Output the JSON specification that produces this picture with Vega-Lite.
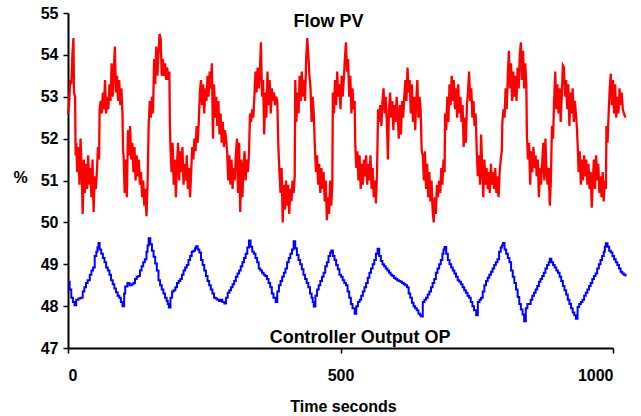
{
  "$schema": "https://vega.github.io/schema/vega-lite/v6.json",
  "autosize": {"type": "none"},
  "padding": {"left": 68, "top": 13, "right": 28, "bottom": 68},
  "width": 545,
  "height": 335,
  "background": "white",
  "config": {
    "view": {"stroke": null},
    "font": "Liberation Sans",
    "axis": {"grid": false, "domainColor": "black", "domainWidth": 2, "tickColor": "black", "tickWidth": 1.5, "tickSize": 5, "labelFont": "Liberation Sans", "labelFontWeight": "bold", "labelFontSize": 16, "labelColor": "black", "titleFont": "Liberation Sans", "titleFontWeight": "bold", "titleFontSize": 16, "titleColor": "black"}
  },
  "datasets": {
    "pv": [
      {"t":0,"v":52.6},{"t":2,"v":52.8},{"t":4,"v":53.4},{"t":6,"v":53.3},{"t":8,"v":54.0},{"t":10,"v":54.4},{"t":11,"v":53.1},{"t":13,"v":53.0},{"t":14,"v":51.6},
      {"t":15,"v":51.9},{"t":17,"v":51.2},{"t":19,"v":51.8},{"t":21,"v":50.9},{"t":23,"v":52.0},{"t":25,"v":51.3},{"t":27,"v":50.2},{"t":29,"v":51.5},{"t":31,"v":50.7},{"t":33,"v":51.4},{"t":35,"v":50.8},{"t":37,"v":51.6},{"t":39,"v":50.9},{"t":41,"v":51.3},{"t":43,"v":50.6},{"t":45,"v":51.5},{"t":47,"v":50.25},{"t":49,"v":51.1},{"t":51,"v":50.8},{"t":53,"v":51.2},{"t":55,"v":51.8},{"t":57,"v":51.5},
      {"t":58,"v":52.7},{"t":60,"v":52.9},{"t":62,"v":52.6},{"t":64,"v":53.1},{"t":66,"v":52.7},{"t":68,"v":53.4},{"t":70,"v":52.6},{"t":72,"v":53.0},{"t":74,"v":52.7},{"t":76,"v":53.3},{"t":78,"v":52.9},{"t":80,"v":53.8},{"t":82,"v":53.0},{"t":84,"v":53.6},{"t":86,"v":54.2},{"t":88,"v":53.1},{"t":90,"v":53.5},{"t":92,"v":52.9},{"t":94,"v":53.4},{"t":96,"v":52.8},{"t":98,"v":53.2},{"t":100,"v":52.6},
      {"t":101,"v":51.7},{"t":102,"v":51.6},{"t":104,"v":50.7},{"t":106,"v":51.5},{"t":108,"v":50.6},{"t":110,"v":52.2},{"t":112,"v":51.6},{"t":114,"v":52.3},{"t":116,"v":51.5},{"t":118,"v":51.9},{"t":120,"v":51.2},{"t":122,"v":51.8},{"t":124,"v":51.0},{"t":126,"v":51.6},{"t":128,"v":51.1},{"t":130,"v":51.5},{"t":132,"v":50.9},{"t":134,"v":51.2},{"t":136,"v":50.6},{"t":138,"v":51.0},{"t":140,"v":50.4},{"t":142,"v":50.8},{"t":144,"v":50.15},{"t":146,"v":50.9},{"t":147,"v":51.6},
      {"t":148,"v":52.3},{"t":150,"v":52.9},{"t":152,"v":52.5},{"t":154,"v":53.0},{"t":156,"v":52.6},{"t":158,"v":53.9},{"t":160,"v":53.3},{"t":162,"v":54.2},{"t":164,"v":53.5},{"t":166,"v":54.0},{"t":168,"v":54.5},{"t":170,"v":54.4},{"t":172,"v":53.5},{"t":174,"v":53.9},{"t":176,"v":53.5},{"t":178,"v":53.8},{"t":180,"v":53.4},{"t":182,"v":53.7},{"t":184,"v":53.4},{"t":186,"v":53.6},{"t":187,"v":52.3},
      {"t":188,"v":51.8},{"t":190,"v":51.2},{"t":192,"v":51.9},{"t":194,"v":50.9},{"t":196,"v":51.5},{"t":198,"v":50.6},{"t":200,"v":51.4},{"t":202,"v":51.9},{"t":204,"v":51.0},{"t":206,"v":51.7},{"t":208,"v":51.2},{"t":210,"v":51.8},{"t":212,"v":50.9},{"t":214,"v":51.4},{"t":216,"v":51.0},{"t":218,"v":51.6},{"t":220,"v":50.8},{"t":222,"v":51.3},{"t":224,"v":50.6},{"t":226,"v":51.2},{"t":228,"v":51.8},{"t":230,"v":51.5},{"t":232,"v":52.0},{"t":234,"v":51.7},{"t":236,"v":52.3},{"t":238,"v":51.9},{"t":240,"v":52.4},
      {"t":242,"v":53.1},{"t":244,"v":53.4},{"t":246,"v":52.8},{"t":248,"v":53.3},{"t":250,"v":52.6},{"t":252,"v":53.2},{"t":254,"v":52.9},{"t":256,"v":53.5},{"t":258,"v":53.0},{"t":260,"v":53.6},{"t":262,"v":53.2},{"t":264,"v":53.8},{"t":266,"v":52.0},{"t":268,"v":53.3},{"t":270,"v":52.5},{"t":272,"v":53.0},{"t":274,"v":52.3},{"t":276,"v":52.9},{"t":278,"v":52.1},{"t":280,"v":52.6},{"t":282,"v":51.9},{"t":284,"v":52.4},{"t":286,"v":51.8},{"t":288,"v":52.2},{"t":290,"v":52.0},
      {"t":292,"v":51.7},{"t":294,"v":51.0},{"t":296,"v":51.6},{"t":298,"v":50.9},{"t":300,"v":51.5},{"t":302,"v":50.8},{"t":304,"v":51.3},{"t":306,"v":51.0},{"t":308,"v":51.6},{"t":310,"v":52.0},{"t":312,"v":50.7},{"t":314,"v":51.9},{"t":316,"v":50.25},{"t":318,"v":51.5},{"t":320,"v":50.6},{"t":322,"v":51.3},{"t":324,"v":51.7},{"t":326,"v":51.0},{"t":328,"v":51.5},{"t":330,"v":51.2},{"t":332,"v":51.6},
      {"t":334,"v":52.6},{"t":336,"v":52.4},{"t":338,"v":52.7},{"t":340,"v":52.5},{"t":342,"v":53.0},{"t":344,"v":53.6},{"t":346,"v":53.1},{"t":348,"v":53.7},{"t":350,"v":53.2},{"t":352,"v":53.6},{"t":354,"v":54.3},{"t":356,"v":53.0},{"t":358,"v":53.4},{"t":360,"v":52.1},{"t":362,"v":53.1},{"t":364,"v":52.5},{"t":366,"v":53.6},{"t":368,"v":52.8},{"t":370,"v":53.4},{"t":372,"v":52.6},{"t":374,"v":53.2},{"t":376,"v":52.9},{"t":378,"v":53.1},{"t":380,"v":52.8},{"t":382,"v":53.0},{"t":384,"v":52.9},
      {"t":386,"v":51.8},{"t":388,"v":51.2},{"t":390,"v":50.7},{"t":392,"v":51.3},{"t":394,"v":50.0},{"t":396,"v":50.9},{"t":398,"v":50.3},{"t":400,"v":51.0},{"t":402,"v":50.4},{"t":404,"v":50.9},{"t":406,"v":50.2},{"t":408,"v":50.8},{"t":410,"v":50.5},{"t":412,"v":51.0},{"t":414,"v":50.7},{"t":416,"v":51.1},
      {"t":417,"v":53.4},{"t":419,"v":52.4},{"t":421,"v":53.1},{"t":423,"v":52.6},{"t":425,"v":53.5},{"t":427,"v":52.9},{"t":429,"v":53.6},{"t":431,"v":53.0},{"t":433,"v":53.4},{"t":435,"v":52.9},{"t":437,"v":53.9},{"t":439,"v":54.4},{"t":441,"v":54.0},{"t":443,"v":53.5},{"t":445,"v":53.2},{"t":447,"v":52.4},{"t":449,"v":53.0},{"t":451,"v":52.6},
      {"t":453,"v":51.8},{"t":455,"v":51.2},{"t":457,"v":51.6},{"t":459,"v":50.9},{"t":461,"v":51.4},{"t":463,"v":50.7},{"t":465,"v":51.3},{"t":467,"v":50.8},{"t":469,"v":51.2},{"t":471,"v":50.5},{"t":473,"v":51.0},{"t":475,"v":50.05},{"t":477,"v":50.6},{"t":479,"v":50.2},{"t":481,"v":51.0},{"t":483,"v":50.4},{"t":485,"v":50.9},
      {"t":486,"v":53.1},{"t":488,"v":52.6},{"t":490,"v":53.4},{"t":492,"v":52.8},{"t":494,"v":53.6},{"t":496,"v":53.0},{"t":498,"v":53.3},{"t":500,"v":52.7},{"t":502,"v":53.5},{"t":504,"v":53.0},{"t":506,"v":53.4},{"t":508,"v":53.9},{"t":510,"v":54.3},{"t":512,"v":53.6},{"t":514,"v":53.9},{"t":516,"v":53.0},{"t":518,"v":53.5},{"t":520,"v":52.6},{"t":522,"v":53.2},{"t":524,"v":52.7},{"t":526,"v":52.9},
      {"t":527,"v":51.9},{"t":529,"v":51.3},{"t":531,"v":51.7},{"t":533,"v":51.0},{"t":535,"v":51.6},{"t":537,"v":50.8},{"t":539,"v":51.4},{"t":541,"v":50.9},{"t":543,"v":51.5},{"t":545,"v":51.1},{"t":547,"v":51.6},{"t":549,"v":50.9},{"t":551,"v":51.4},{"t":553,"v":51.0},{"t":555,"v":51.6},{"t":557,"v":50.8},{"t":559,"v":51.3},{"t":561,"v":50.6},{"t":563,"v":51.0},{"t":565,"v":50.45},{"t":567,"v":51.2},
      {"t":569,"v":52.7},{"t":571,"v":52.4},{"t":573,"v":52.8},{"t":575,"v":52.3},{"t":577,"v":52.9},{"t":579,"v":53.2},{"t":581,"v":52.6},{"t":583,"v":53.0},{"t":585,"v":52.4},{"t":587,"v":51.5},{"t":589,"v":52.7},{"t":591,"v":53.1},{"t":593,"v":52.5},{"t":595,"v":52.9},{"t":597,"v":52.2},{"t":599,"v":52.8},{"t":601,"v":52.4},{"t":603,"v":53.0},{"t":605,"v":52.6},{"t":607,"v":52.0},{"t":609,"v":52.8},{"t":611,"v":52.1},{"t":613,"v":52.9},{"t":615,"v":52.5},{"t":617,"v":53.0},{"t":619,"v":53.4},{"t":621,"v":52.9},{"t":623,"v":53.7},{"t":625,"v":53.1},{"t":627,"v":53.4},{"t":629,"v":52.6},{"t":631,"v":53.3},{"t":633,"v":52.4},{"t":635,"v":53.0},{"t":637,"v":52.2},{"t":639,"v":52.9},{"t":641,"v":53.4},{"t":643,"v":52.5},{"t":645,"v":53.0},{"t":647,"v":52.7},
      {"t":649,"v":51.7},{"t":651,"v":51.6},{"t":653,"v":51.0},{"t":655,"v":51.7},{"t":657,"v":50.8},{"t":659,"v":51.4},{"t":661,"v":50.6},{"t":663,"v":51.2},{"t":665,"v":50.5},{"t":667,"v":51.0},{"t":669,"v":50.3},{"t":671,"v":50.0},{"t":673,"v":50.6},{"t":675,"v":50.2},{"t":677,"v":50.9},{"t":679,"v":50.6},{"t":681,"v":51.0},{"t":683,"v":50.7},{"t":685,"v":51.3},{"t":687,"v":50.9},{"t":689,"v":51.5},{"t":691,"v":51.2},
      {"t":692,"v":52.6},{"t":694,"v":52.2},{"t":696,"v":53.0},{"t":698,"v":52.4},{"t":700,"v":53.3},{"t":702,"v":52.8},{"t":704,"v":53.5},{"t":706,"v":52.9},{"t":708,"v":53.4},{"t":710,"v":52.7},{"t":712,"v":53.2},{"t":714,"v":52.5},{"t":716,"v":53.3},{"t":718,"v":52.6},{"t":720,"v":53.0},{"t":722,"v":52.4},{"t":724,"v":52.8},{"t":726,"v":51.8},{"t":728,"v":52.5},{"t":730,"v":51.9},{"t":732,"v":52.8},{"t":734,"v":53.1},{"t":736,"v":53.6},{"t":738,"v":52.9},{"t":740,"v":53.2},{"t":742,"v":52.5},{"t":744,"v":52.9},{"t":746,"v":52.3},{"t":748,"v":52.6},
      {"t":750,"v":51.7},{"t":752,"v":51.1},{"t":754,"v":51.6},{"t":756,"v":50.9},{"t":758,"v":52.1},{"t":760,"v":51.3},{"t":762,"v":50.6},{"t":764,"v":51.5},{"t":766,"v":50.9},{"t":768,"v":51.3},{"t":770,"v":50.8},{"t":772,"v":51.2},{"t":774,"v":50.7},{"t":776,"v":51.4},{"t":778,"v":50.9},{"t":780,"v":51.2},{"t":782,"v":50.8},{"t":784,"v":51.3},{"t":786,"v":50.7},{"t":788,"v":51.1},{"t":790,"v":50.6},{"t":792,"v":51.2},{"t":794,"v":51.5},{"t":796,"v":51.7},
      {"t":797,"v":52.4},{"t":799,"v":52.7},{"t":801,"v":52.5},{"t":803,"v":53.2},{"t":805,"v":52.7},{"t":807,"v":53.5},{"t":809,"v":54.1},{"t":811,"v":53.2},{"t":813,"v":53.8},{"t":815,"v":52.9},{"t":817,"v":53.6},{"t":819,"v":53.0},{"t":821,"v":53.5},{"t":823,"v":52.9},{"t":825,"v":53.7},{"t":827,"v":53.2},{"t":829,"v":54.0},{"t":831,"v":54.3},{"t":833,"v":53.4},{"t":835,"v":54.1},{"t":837,"v":53.2},{"t":839,"v":53.8},{"t":841,"v":53.3},
      {"t":842,"v":52.1},{"t":844,"v":51.5},{"t":846,"v":51.9},{"t":848,"v":50.9},{"t":850,"v":51.7},{"t":852,"v":51.2},{"t":854,"v":51.8},{"t":856,"v":51.3},{"t":858,"v":51.6},{"t":860,"v":51.1},{"t":862,"v":51.5},{"t":864,"v":50.6},{"t":866,"v":51.3},{"t":868,"v":50.9},{"t":870,"v":51.4},{"t":872,"v":51.9},{"t":874,"v":51.0},{"t":876,"v":52.0},{"t":878,"v":51.2},{"t":880,"v":50.9},{"t":882,"v":51.3},{"t":884,"v":50.4},{"t":886,"v":51.0},
      {"t":888,"v":52.3},{"t":890,"v":52.0},{"t":892,"v":52.9},{"t":894,"v":53.6},{"t":896,"v":52.7},{"t":898,"v":53.3},{"t":900,"v":52.6},{"t":902,"v":53.2},{"t":904,"v":52.4},{"t":906,"v":53.0},{"t":908,"v":53.75},{"t":910,"v":53.7},{"t":912,"v":53.0},{"t":914,"v":53.4},{"t":916,"v":52.7},{"t":918,"v":53.3},{"t":920,"v":52.3},{"t":922,"v":53.1},{"t":924,"v":52.6},{"t":926,"v":53.2},{"t":928,"v":52.4},{"t":930,"v":52.9},{"t":932,"v":52.6},{"t":934,"v":52.2},
      {"t":935,"v":51.9},{"t":937,"v":51.2},{"t":939,"v":51.7},{"t":941,"v":50.9},{"t":943,"v":51.5},{"t":945,"v":51.0},{"t":947,"v":51.6},{"t":949,"v":51.1},{"t":951,"v":51.5},{"t":953,"v":50.9},{"t":955,"v":51.4},{"t":957,"v":50.8},{"t":959,"v":51.2},{"t":961,"v":50.35},{"t":963,"v":51.0},{"t":965,"v":51.5},{"t":967,"v":50.8},{"t":969,"v":51.6},{"t":971,"v":51.0},{"t":973,"v":51.4},{"t":975,"v":50.7},{"t":977,"v":51.1},{"t":979,"v":50.6},{"t":981,"v":51.2},{"t":983,"v":50.5},{"t":985,"v":51.0},{"t":987,"v":50.8},
      {"t":988,"v":52.3},{"t":990,"v":51.9},{"t":992,"v":52.6},{"t":994,"v":53.2},{"t":996,"v":53.55},{"t":998,"v":52.8},{"t":1000,"v":53.4},{"t":1002,"v":52.6},{"t":1004,"v":53.3},{"t":1006,"v":52.5},{"t":1008,"v":53.0},{"t":1010,"v":52.6},{"t":1012,"v":53.2},{"t":1014,"v":52.8},{"t":1016,"v":53.1},{"t":1018,"v":52.7},{"t":1020,"v":52.6},{"t":1023,"v":52.5}
    ],
    "op": [
      {"t":0,"v":48.58},{"t":3,"v":48.4},{"t":6,"v":48.2},{"t":9,"v":48.1},{"t":12,"v":48.02},{"t":15,"v":48.15},{"t":19,"v":48.18},{"t":23,"v":48.2},{"t":27,"v":48.35},{"t":30,"v":48.45},{"t":33,"v":48.55},{"t":36,"v":48.62},{"t":40,"v":48.75},{"t":43,"v":48.85},{"t":46,"v":48.92},{"t":49,"v":49.2},{"t":52,"v":49.3},{"t":54,"v":49.4},{"t":56,"v":49.51},{"t":58,"v":49.35},{"t":61,"v":49.25},{"t":64,"v":49.15},{"t":67,"v":49.05},{"t":70,"v":48.92},{"t":73,"v":48.85},{"t":76,"v":48.75},{"t":79,"v":48.62},{"t":82,"v":48.52},{"t":85,"v":48.42},{"t":88,"v":48.33},{"t":91,"v":48.25},{"t":94,"v":48.2},{"t":97,"v":48.1},{"t":100,"v":48.0},
      {"t":103,"v":48.3},{"t":105,"v":48.47},{"t":109,"v":48.55},{"t":113,"v":48.5},{"t":117,"v":48.52},{"t":120,"v":48.55},{"t":123,"v":48.65},{"t":126,"v":48.7},{"t":129,"v":48.72},{"t":132,"v":48.85},{"t":135,"v":48.95},{"t":138,"v":49.05},{"t":141,"v":49.12},{"t":144,"v":49.3},{"t":146,"v":49.45},{"t":148,"v":49.62},{"t":151,"v":49.48},{"t":154,"v":49.32},{"t":157,"v":49.18},{"t":160,"v":49.02},{"t":163,"v":48.85},{"t":166,"v":48.62},{"t":169,"v":48.5},{"t":172,"v":48.4},{"t":175,"v":48.3},{"t":178,"v":48.2},{"t":181,"v":48.12},{"t":183,"v":48.05},{"t":185,"v":47.97},
      {"t":188,"v":48.2},{"t":191,"v":48.35},{"t":194,"v":48.38},{"t":197,"v":48.45},{"t":200,"v":48.55},{"t":203,"v":48.6},{"t":206,"v":48.65},{"t":209,"v":48.75},{"t":212,"v":48.85},{"t":215,"v":48.92},{"t":218,"v":48.98},{"t":221,"v":49.1},{"t":224,"v":49.2},{"t":227,"v":49.3},{"t":230,"v":49.32},{"t":233,"v":49.38},{"t":235,"v":49.43},{"t":238,"v":49.35},{"t":241,"v":49.28},{"t":244,"v":49.1},{"t":247,"v":48.98},{"t":250,"v":48.85},{"t":253,"v":48.72},{"t":256,"v":48.6},{"t":259,"v":48.5},{"t":262,"v":48.4},{"t":265,"v":48.3},{"t":268,"v":48.2},{"t":271,"v":48.18},{"t":274,"v":48.15},{"t":277,"v":48.12},{"t":280,"v":48.15},{"t":283,"v":48.1},{"t":287,"v":48.06},
      {"t":290,"v":48.2},{"t":293,"v":48.32},{"t":296,"v":48.38},{"t":299,"v":48.45},{"t":302,"v":48.52},{"t":305,"v":48.6},{"t":308,"v":48.7},{"t":311,"v":48.78},{"t":314,"v":48.85},{"t":317,"v":48.95},{"t":320,"v":49.05},{"t":323,"v":49.15},{"t":326,"v":49.25},{"t":329,"v":49.4},{"t":332,"v":49.57},{"t":335,"v":49.42},{"t":338,"v":49.3},{"t":341,"v":49.25},{"t":344,"v":49.15},{"t":347,"v":49.05},{"t":350,"v":48.9},{"t":353,"v":48.85},{"t":356,"v":48.8},{"t":359,"v":48.75},{"t":362,"v":48.72},{"t":365,"v":48.65},{"t":368,"v":48.55},{"t":371,"v":48.45},{"t":374,"v":48.3},{"t":377,"v":48.2},{"t":381,"v":48.1},
      {"t":384,"v":48.35},{"t":387,"v":48.5},{"t":390,"v":48.6},{"t":393,"v":48.7},{"t":396,"v":48.8},{"t":399,"v":48.9},{"t":402,"v":49.05},{"t":405,"v":49.15},{"t":408,"v":49.25},{"t":411,"v":49.35},{"t":414,"v":49.55},{"t":417,"v":49.38},{"t":420,"v":49.22},{"t":423,"v":49.1},{"t":426,"v":49.0},{"t":429,"v":48.88},{"t":432,"v":48.75},{"t":435,"v":48.65},{"t":438,"v":48.55},{"t":441,"v":48.45},{"t":444,"v":48.3},{"t":447,"v":48.2},{"t":449,"v":48.1},{"t":451,"v":47.99},
      {"t":454,"v":48.25},{"t":457,"v":48.4},{"t":460,"v":48.5},{"t":463,"v":48.6},{"t":466,"v":48.7},{"t":469,"v":48.8},{"t":472,"v":48.95},{"t":475,"v":49.05},{"t":478,"v":49.2},{"t":481,"v":49.28},{"t":483,"v":49.33},{"t":486,"v":49.2},{"t":489,"v":49.1},{"t":492,"v":48.98},{"t":495,"v":48.88},{"t":498,"v":48.75},{"t":501,"v":48.7},{"t":504,"v":48.62},{"t":507,"v":48.55},{"t":510,"v":48.5},{"t":513,"v":48.35},{"t":516,"v":48.2},{"t":519,"v":48.05},{"t":522,"v":47.95},{"t":526,"v":47.82},
      {"t":529,"v":48.0},{"t":532,"v":48.1},{"t":535,"v":48.15},{"t":538,"v":48.25},{"t":541,"v":48.35},{"t":544,"v":48.45},{"t":547,"v":48.55},{"t":550,"v":48.68},{"t":553,"v":48.8},{"t":556,"v":48.9},{"t":559,"v":49.0},{"t":562,"v":49.1},{"t":565,"v":49.25},{"t":568,"v":49.37},{"t":571,"v":49.2},{"t":574,"v":49.08},{"t":577,"v":49.0},{"t":580,"v":48.95},{"t":583,"v":48.9},{"t":586,"v":48.85},{"t":589,"v":48.8},{"t":592,"v":48.75},{"t":595,"v":48.72},{"t":598,"v":48.68},{"t":601,"v":48.65},{"t":604,"v":48.62},{"t":607,"v":48.6},{"t":610,"v":48.58},{"t":613,"v":48.55},{"t":616,"v":48.52},{"t":619,"v":48.5},{"t":622,"v":48.45},{"t":625,"v":48.3},{"t":628,"v":48.2},{"t":631,"v":48.08},{"t":634,"v":48.0},{"t":637,"v":47.95},{"t":640,"v":47.9},{"t":643,"v":47.82},{"t":646,"v":47.78},{"t":648,"v":47.75},
      {"t":651,"v":48.1},{"t":654,"v":48.15},{"t":657,"v":48.2},{"t":660,"v":48.28},{"t":663,"v":48.35},{"t":666,"v":48.45},{"t":669,"v":48.55},{"t":672,"v":48.65},{"t":675,"v":48.8},{"t":678,"v":48.9},{"t":681,"v":49.0},{"t":684,"v":49.1},{"t":687,"v":49.25},{"t":689,"v":49.35},{"t":691,"v":49.41},{"t":694,"v":49.25},{"t":697,"v":49.1},{"t":700,"v":49.0},{"t":703,"v":48.92},{"t":706,"v":48.85},{"t":709,"v":48.78},{"t":712,"v":48.7},{"t":715,"v":48.62},{"t":718,"v":48.58},{"t":721,"v":48.52},{"t":724,"v":48.45},{"t":727,"v":48.38},{"t":730,"v":48.32},{"t":733,"v":48.25},{"t":736,"v":48.2},{"t":739,"v":48.1},{"t":742,"v":48.0},{"t":745,"v":47.9},{"t":749,"v":47.78},
      {"t":752,"v":48.1},{"t":755,"v":48.15},{"t":758,"v":48.2},{"t":761,"v":48.35},{"t":764,"v":48.5},{"t":767,"v":48.6},{"t":770,"v":48.68},{"t":773,"v":48.75},{"t":776,"v":48.82},{"t":779,"v":48.9},{"t":782,"v":48.98},{"t":785,"v":49.05},{"t":788,"v":49.12},{"t":791,"v":49.3},{"t":794,"v":49.4},{"t":796,"v":49.45},{"t":798,"v":49.51},{"t":801,"v":49.35},{"t":804,"v":49.25},{"t":807,"v":49.15},{"t":810,"v":49.05},{"t":813,"v":48.85},{"t":816,"v":48.7},{"t":819,"v":48.55},{"t":822,"v":48.4},{"t":825,"v":48.22},{"t":828,"v":48.05},{"t":831,"v":47.92},{"t":834,"v":47.8},{"t":837,"v":47.64},
      {"t":840,"v":47.95},{"t":843,"v":48.05},{"t":846,"v":48.05},{"t":849,"v":48.15},{"t":852,"v":48.25},{"t":855,"v":48.32},{"t":858,"v":48.4},{"t":861,"v":48.48},{"t":864,"v":48.58},{"t":867,"v":48.65},{"t":870,"v":48.72},{"t":873,"v":48.8},{"t":876,"v":48.9},{"t":879,"v":48.98},{"t":882,"v":49.05},{"t":884,"v":49.13},{"t":887,"v":49.05},{"t":890,"v":48.98},{"t":893,"v":48.92},{"t":896,"v":48.85},{"t":899,"v":48.8},{"t":902,"v":48.7},{"t":905,"v":48.6},{"t":908,"v":48.48},{"t":911,"v":48.38},{"t":914,"v":48.28},{"t":917,"v":48.15},{"t":920,"v":48.05},{"t":923,"v":47.95},{"t":926,"v":47.85},{"t":929,"v":47.78},{"t":932,"v":47.7},
      {"t":935,"v":47.98},{"t":938,"v":48.05},{"t":941,"v":48.1},{"t":944,"v":48.15},{"t":947,"v":48.25},{"t":950,"v":48.32},{"t":953,"v":48.4},{"t":956,"v":48.48},{"t":959,"v":48.55},{"t":962,"v":48.65},{"t":965,"v":48.72},{"t":968,"v":48.78},{"t":971,"v":48.9},{"t":974,"v":49.0},{"t":977,"v":49.1},{"t":980,"v":49.2},{"t":983,"v":49.3},{"t":985,"v":49.42},{"t":987,"v":49.5},{"t":990,"v":49.42},{"t":993,"v":49.32},{"t":996,"v":49.28},{"t":999,"v":49.2},{"t":1002,"v":49.12},{"t":1005,"v":49.05},{"t":1008,"v":48.98},{"t":1011,"v":48.9},{"t":1014,"v":48.82},{"t":1017,"v":48.78},{"t":1020,"v":48.75},{"t":1023,"v":48.71}
    ],
    "labels": [
      {"t":478,"v":54.78,"label":"Flow PV"},
      {"t":536,"v":47.23,"label":"Controller Output OP"}
    ]
  },
  "encoding": {
    "x": {"field": "t", "type": "quantitative", "scale": {"domain": [0, 1000], "nice": false, "zero": false},
          "axis": {"values": [0, 500, 1000], "format": "d", "title": "Time seconds", "labelPadding": 14, "titleX": 275, "titleY": 58, "titleBaseline": "middle", "titleAnchor": null, "titleAlign": "center"}},
    "y": {"field": "v", "type": "quantitative", "scale": {"domain": [47, 55], "nice": false, "zero": false},
          "axis": {"values": [47, 48, 49, 50, 51, 52, 53, 54, 55], "format": "d", "title": "%", "titleAngle": 0, "titleX": -48, "titleY": 164, "titleAlign": "center", "titleBaseline": "middle", "titleFontSize": 16, "labelPadding": 5}}
  },
  "layer": [
    {"data": {"name": "pv"}, "mark": {"type": "line", "color": "#ff0000", "strokeWidth": 2.3, "clip": false}},
    {"data": {"name": "op"}, "mark": {"type": "line", "color": "#0000ff", "strokeWidth": 2, "interpolate": "step-after", "clip": false}},
    {"data": {"name": "labels"}, "mark": {"type": "text", "font": "Liberation Sans", "fontWeight": "bold", "fontSize": 18, "color": "black", "align": "center", "baseline": "middle"},
     "encoding": {"text": {"field": "label", "type": "nominal"}}}
  ]
}
